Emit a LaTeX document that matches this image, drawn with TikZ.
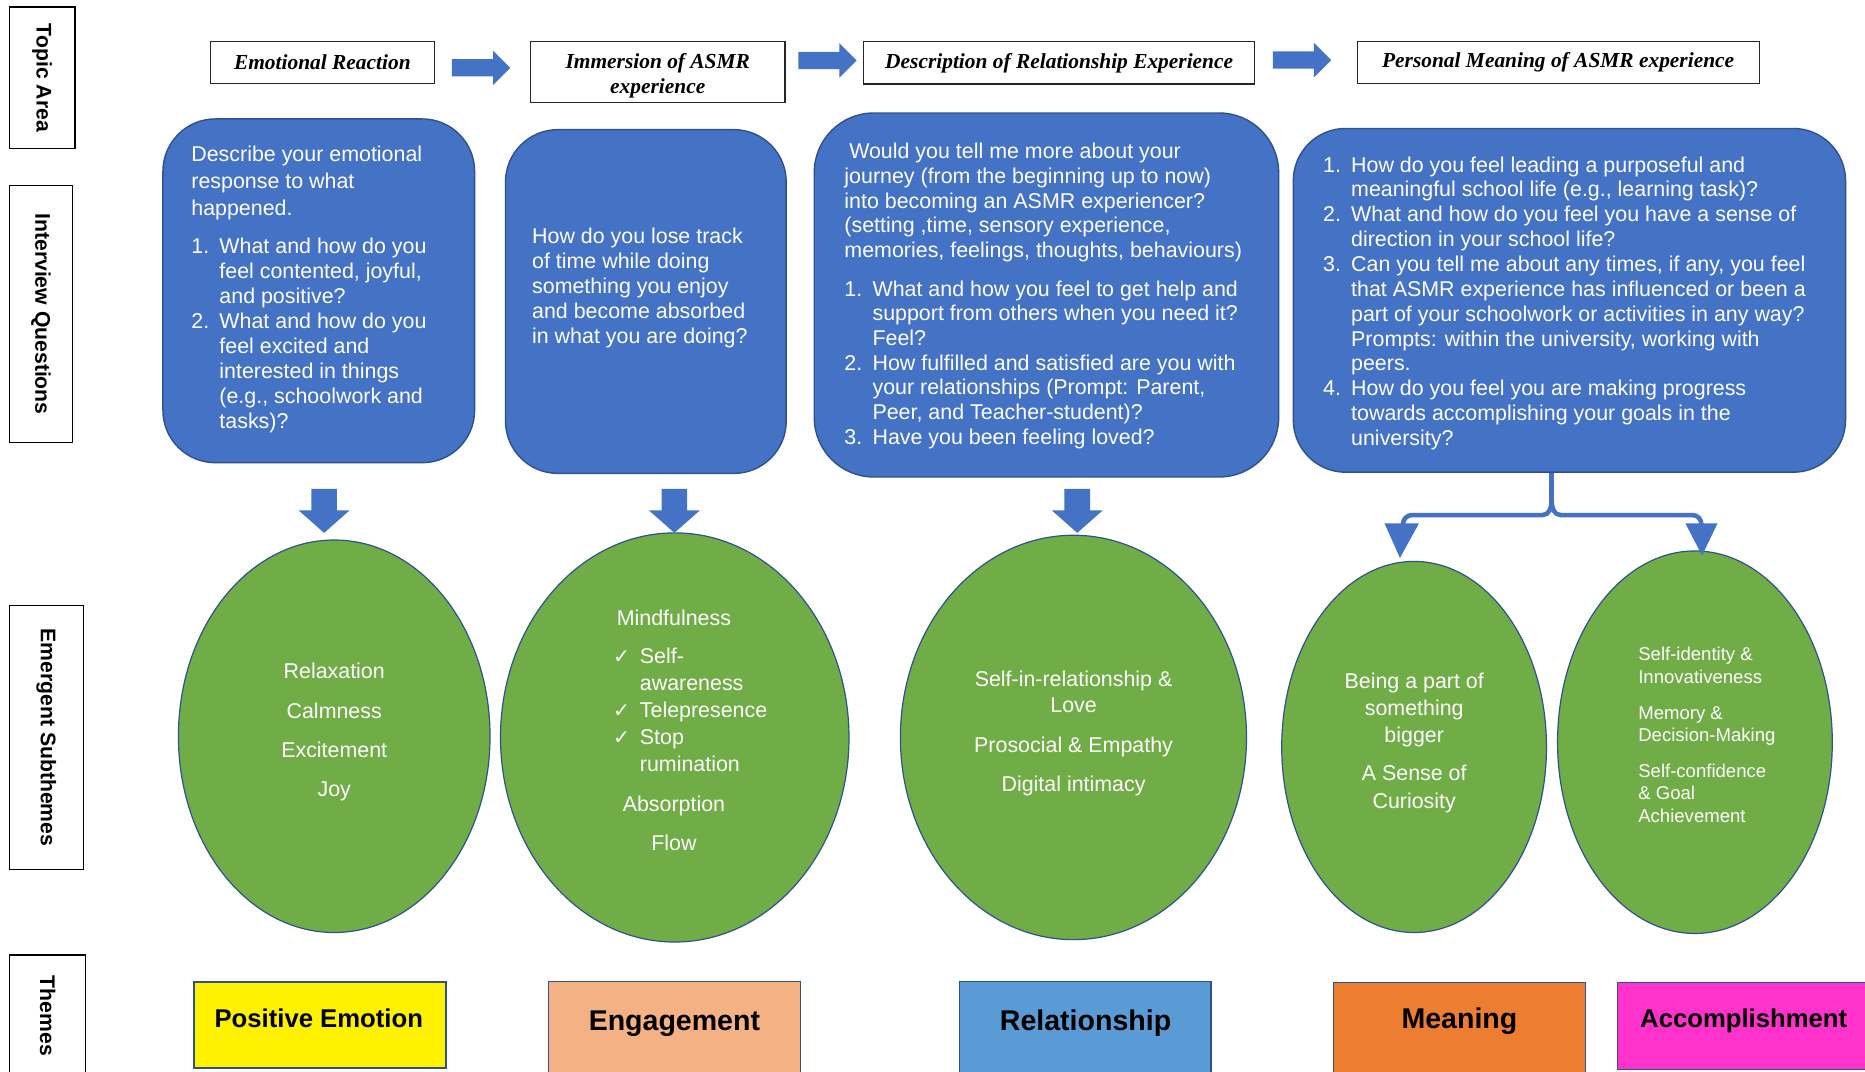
\documentclass[tikz,border=0pt]{standalone}
\usepackage{fontspec}
\setmainfont{Liberation Sans}
\newfontfamily\tnr{Liberation Serif}
\newfontfamily\djv{DejaVu Sans}
\usetikzlibrary{shapes.geometric,calc}
\definecolor{qblue}{HTML}{4472C4}
\definecolor{qborder}{HTML}{2F528F}
\definecolor{egreen}{HTML}{70AD47}
\definecolor{engc}{HTML}{F4B183}
\definecolor{relc}{HTML}{5B9BD5}
\definecolor{meanc}{HTML}{ED7D31}
\definecolor{accc}{HTML}{FF33CC}
\newcommand{\qn}[1]{\makebox[11.8pt][l]{#1}}
\newcommand{\qi}{\hspace*{11.8pt}}
\newcommand{\ck}{\makebox[11.3pt][l]{\djv\fontsize{8.5}{9}\selectfont ✓}}
\newcommand{\qk}{\hspace*{11.3pt}}
\tikzset{
  lab/.style={draw=black, line width=0.6pt, inner sep=0, font=\bfseries\fontsize{8.9}{10}\selectfont, rotate=-90},
  tbox/.style={draw=black!85, line width=0.5pt, fill=white, inner sep=0, align=center, font=\tnr\bfseries\itshape\fontsize{9}{10.75}\selectfont},
  qbox/.style={draw=qborder, line width=0.6pt, fill=qblue, rounded corners=22pt, inner sep=0},
  qtext/.style={anchor=north west, inner sep=0, align=left, text=white},
  ell/.style={ellipse, draw=qborder, line width=0.5pt, fill=egreen, inner sep=0},
  etext/.style={inner sep=0, text=white, align=center, anchor=north},
  theme/.style={draw=qborder, line width=0.6pt, inner sep=0},
  ttext/.style={anchor=base, inner sep=0, font=\bfseries\fontsize{12}{14}\selectfont},
  ttsmall/.style={anchor=base, inner sep=0, font=\bfseries\fontsize{10.8}{13}\selectfont},
  branch/.style={draw=qblue, line width=1.9pt},
  rarr/.pic={\fill[qblue] (-24.5,-7.25) -- (10,-7.25) -- (10,-14.5) -- (24.5,0) -- (10,14.5) -- (10,7.25) -- (-24.5,7.25) -- cycle;},
  darr/.pic={\fill[qblue] (-10.75,-18) -- (10.75,-18) -- (10.75,0) -- (21.5,0) -- (0,19) -- (-21.5,0) -- (-10.75,0) -- cycle;}
}
\begin{document}
\begin{tikzpicture}[x=0.5pt,y=-0.5pt]
\useasboundingbox (0,0) rectangle (1568,901);
\clip (0,0) rectangle (1568,901);
\fill[white] (0,0) rectangle (1568,901);

% left labels
\node[lab, minimum width=59.5pt, minimum height=27.5pt] (la1) at (35.5,65.5) {Topic Area};
\node[lab, minimum width=108pt, minimum height=26.5pt] (la2) at (34.5,264) {Interview Questions};
\node[lab, minimum width=111pt, minimum height=31pt] (la3) at (39,620) {Emergent Subthemes};
\node[lab, minimum width=51pt, minimum height=32pt] (la4) at (40,854) {Themes};

% topic boxes
\node[tbox, minimum width=94pt, minimum height=17.5pt] (t1) at (271,52.5) {Emotional Reaction};
\node[tbox, minimum width=107pt, minimum height=25.5pt] (t2) at (553,60.5) {};
\node[tbox, draw=none, fill=none] (t2t) at (553,63.5) {Immersion of ASMR\\experience};
\node[tbox, minimum width=164.5pt, minimum height=17.8pt] (t3) at (890.5,52.8) {Description of Relationship Experience};
\node[tbox, minimum width=169pt, minimum height=17.5pt] (t4) at (1310,52.5) {Personal Meaning of ASMR experience};

\pic at (404.5,57) {rarr};
\pic at (695.7,50.8) {rarr};
\pic at (1094.7,50.5) {rarr};

% question boxes
\node[qbox, minimum width=131pt, minimum height=144.5pt] (q1) at (268,244.5) {};
\node[qbox, minimum width=118pt, minimum height=144.5pt] (q2) at (543,253.5) {};
\node[qbox, rounded corners=25pt, minimum width=195.2pt, minimum height=153pt] (q3) at (879.8,248) {};
\node[qbox, minimum width=232.15pt, minimum height=144.5pt] (q4) at (1319.5,252.5) {};

\node[qtext, font=\fontsize{9}{10.5}\selectfont] (q1t) at (160.5,120.8) {\strut Describe your emotional\\[0.75pt]response to what\\[0.75pt]happened.\\[5.5pt]\qn{1.}What and how do you\\\qi feel contented, joyful,\\\qi and positive?\\\qn{2.}What and how do you\\\qi feel excited and\\\qi interested in things\\\qi (e.g., schoolwork and\\\qi tasks)?};

\node[qtext, font=\fontsize{9}{10.5}\selectfont] (q2t) at (447,189.8) {\strut How do you lose track\\of time while doing\\something you enjoy\\and become absorbed\\in what you are doing?};

\node[qtext, font=\fontsize{9}{10.4}\selectfont] (q3t) at (709.6,118.4) {\strut\hspace*{2pt}Would you tell me more about your\\journey (from the beginning up to now)\\into becoming an ASMR experiencer?\\(setting ,time, sensory experience,\\memories, feelings, thoughts, behaviours)\\[5.75pt]\qn{1.}What and how you feel to get help and\\\qi support from others when you need it?\\\qi Feel?\\\qn{2.}How fulfilled and satisfied are you with\\\qi your relationships (Prompt: Parent,\\\qi Peer, and Teacher-student)?\\\qn{3.}Have you been feeling loved?};

\node[qtext, font=\fontsize{9}{10.45}\selectfont] (q4t) at (1112,129.6) {\strut\qn{1.}How do you feel leading a purposeful and\\\qi meaningful school life (e.g., learning task)?\\\qn{2.}What and how do you feel you have a sense of\\\qi direction in your school life?\\\qn{3.}Can you tell me about any times, if any, you feel\\\qi that ASMR experience has influenced or been a\\\qi part of your schoolwork or activities in any way?\\\qi Prompts: within the university, working with\\\qi peers.\\\qn{4.}How do you feel you are making progress\\\qi towards accomplishing your goals in the\\\qi university?};

% ellipses
\node[ell, minimum width=131pt, minimum height=165pt] (e1) at (281,619) {};
\node[ell, minimum width=146.5pt, minimum height=172pt] (e2) at (567.3,620) {};
\node[ell, minimum width=145.5pt, minimum height=170pt] (e3) at (902.5,620) {};
\node[ell, minimum width=111.3pt, minimum height=156pt] (e4) at (1188.9,628) {};
\node[ell, minimum width=115.5pt, minimum height=160.8pt] (e5) at (1425,624) {};

\node[etext, font=\fontsize{9}{16.5}\selectfont] (e1t) at (281,547.2) {\strut Relaxation\\Calmness\\Excitement\\Joy};
\node[anchor=base, inner sep=0, text=white, font=\fontsize{9}{10.5}\selectfont] (e2a) at (566.6,526) {Mindfulness};
\node[qtext, font=\fontsize{9}{11.35}\selectfont] (e2b) at (515,541.6) {\strut\ck Self-\\\qk awareness\\\ck Telepresence\\\ck Stop\\\qk rumination};
\node[etext, font=\fontsize{9}{16.5}\selectfont] (e2c) at (566.6,658.4) {\strut Absorption\\Flow};
\node[etext, font=\fontsize{9}{11}\selectfont] (e3t) at (902.6,561.1) {\strut Self-in-relationship \&\\Love\\[6pt]Prosocial \& Empathy\\[5.25pt]Digital intimacy};
\node[etext, font=\fontsize{9}{11.4}\selectfont] (e4t) at (1189,562.1) {\strut Being a part of\\something\\bigger\\[4.85pt]A Sense of\\Curiosity};
\node[qtext, font=\fontsize{7.8}{9.5}\selectfont] (e5t) at (1377,541.9) {\strut Self-identity \&\\Innovativeness\\[5.6pt]Memory \&\\Decision-Making\\[5.3pt]Self-confidence\\\& Goal\\Achievement};

% down arrows
\pic at (272.5,429) {darr};
\pic at (567,429) {darr};
\pic at (905.7,429) {darr};

% branch
\coordinate (bj) at (1304.5,421);
\draw[branch] ([xshift=-7.5pt]q4.south) -- (bj);
\draw[branch] (bj) to[out=-90,in=0] (1297,433) -- (1187,433) to[out=180,in=90] (1179.5,441);
\draw[branch] (bj) to[out=-90,in=180] (1312,433) -- (1423,433) to[out=0,in=90] (1430.5,441);
\fill[qblue] (1164,440) -- (1193,440) -- (1177,469) -- cycle;
\fill[qblue] (1417,440) -- (1444,440) -- (1431,467) -- cycle;

% themes
\node[theme, fill=yellow, minimum width=106pt, minimum height=36.25pt] (th1) at (269,861.75) {};
\node[theme, fill=engc, minimum width=106pt, minimum height=45pt] (th2) at (567,870) {};
\node[theme, fill=relc, minimum width=105.7pt, minimum height=45pt] (th3) at (912.5,870) {};
\node[theme, fill=meanc, minimum width=106pt, minimum height=44.5pt] (th4) at (1227,870.5) {};
\node[theme, fill=accc, minimum width=106pt, minimum height=36.5pt] (th5) at (1466,862.5) {};
\node[ttsmall] (th1t) at (268,864) {Positive Emotion};
\node[ttext] (th2t) at (567,866.5) {Engagement};
\node[ttext] (th3t) at (912.7,866) {Relationship};
\node[ttext] (th4t) at (1227,865) {Meaning};
\node[ttsmall] (th5t) at (1466,864) {Accomplishment};
\end{tikzpicture}
\end{document}
